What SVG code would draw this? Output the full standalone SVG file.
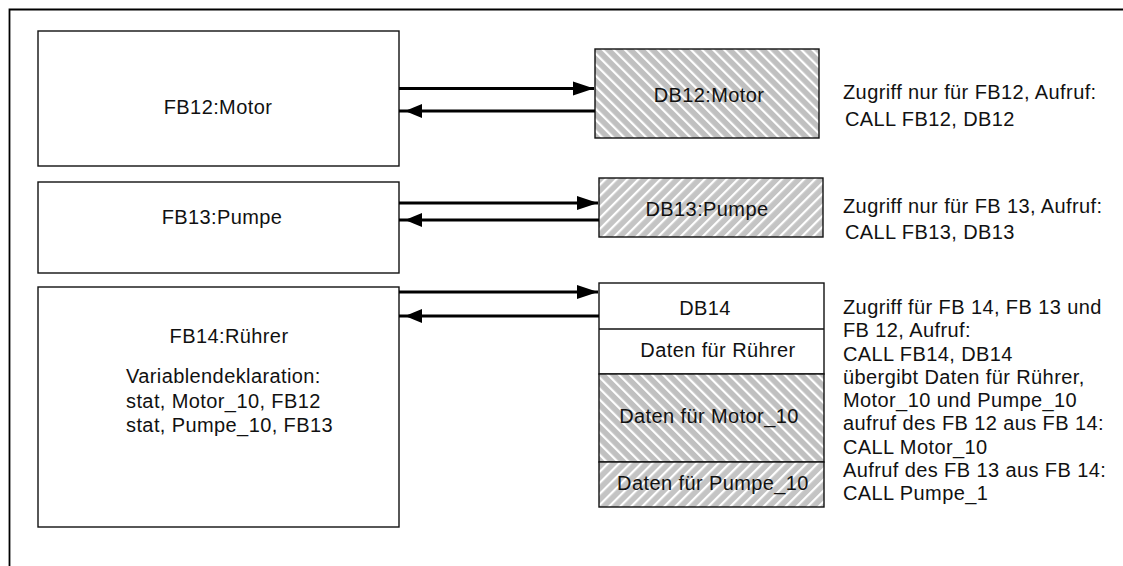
<svg xmlns="http://www.w3.org/2000/svg" width="1123" height="566" viewBox="0 0 1123 566">
  <style>
    .box { fill: #fff; stroke: #111; stroke-width: 1.4; }
    .hb { fill: url(#hatchBack); stroke: #111; stroke-width: 1.4; }
    .hf { fill: url(#hatchFwd); stroke: #111; stroke-width: 1.4; }
    .sep { stroke: #111; stroke-width: 1.4; fill: none; }
    text { font-family: "Liberation Sans", Arial, sans-serif; font-size: 20px; fill: #111; letter-spacing: 0.4px; }
    .c { text-anchor: middle; }
    .conn { stroke: #000; stroke-width: 3; fill: none; }
    .in { marker-end: url(#headIn); }
    .out { marker-end: url(#headOut); }
  </style>
  <defs>
    <!-- grey fill with white diagonal stripes, two directions -->
    <pattern id="hatchBack" width="7.8" height="7.8" patternUnits="userSpaceOnUse" patternTransform="rotate(-45)">
      <rect width="7.8" height="7.8" fill="#c0c0c0"/>
      <rect width="2.2" height="7.8" fill="#fff"/>
    </pattern>
    <pattern id="hatchFwd" width="7.8" height="7.8" patternUnits="userSpaceOnUse" patternTransform="rotate(45)">
      <rect width="7.8" height="7.8" fill="#c4c4c4"/>
      <rect width="2.2" height="7.8" fill="#fff"/>
    </pattern>
    <!-- arrowhead touching the data block -->
    <marker id="headIn" markerUnits="userSpaceOnUse" markerWidth="30" markerHeight="20" refX="21" refY="7" orient="auto" overflow="visible">
      <path d="M0,0 L21,7 L0,14 z" fill="#000"/>
    </marker>
    <!-- arrowhead set slightly off the function block edge -->
    <marker id="headOut" markerUnits="userSpaceOnUse" markerWidth="30" markerHeight="20" refX="23" refY="7" orient="auto" overflow="visible">
      <path d="M0,0 L17,7 L0,14 z" fill="#000"/>
    </marker>
  </defs>

  <rect width="1123" height="566" fill="#fff"/>

  <!-- outer frame -->
  <path d="M9.5,566 V9.5 H1123" fill="none" stroke="#000" stroke-width="1.8"/>

  <g id="fb12">
    <rect class="box" x="38" y="31" width="361" height="135"/>
    <text class="c" x="218" y="114">FB12:Motor</text>
  </g>

  <g id="fb13">
    <rect class="box" x="38" y="182" width="361" height="91"/>
    <text class="c" x="222" y="224">FB13:Pumpe</text>
  </g>

  <g id="fb14">
    <rect class="box" x="38" y="287" width="361" height="240"/>
    <text class="c" x="229" y="343">FB14:Rührer</text>
    <text x="126" y="383">Variablendeklaration:</text>
    <text x="126" y="408">stat, Motor_10, FB12</text>
    <text x="126" y="432">stat, Pumpe_10, FB13</text>
  </g>

  <g id="db12">
    <rect class="hb" x="595" y="49" width="224" height="89"/>
    <text class="c" x="709" y="102">DB12:Motor</text>
  </g>

  <g id="db13">
    <rect class="hf" x="599" y="178" width="224" height="59"/>
    <text class="c" x="707" y="216">DB13:Pumpe</text>
  </g>

  <g id="db14">
    <rect class="box" x="599" y="283" width="225" height="91"/>
    <rect class="hb" x="599" y="374" width="225" height="88"/>
    <rect class="hf" x="599" y="462" width="225" height="45"/>
    <line class="sep" x1="599" y1="329" x2="824" y2="329"/>
    <text class="c" x="705" y="315">DB14</text>
    <text class="c" x="718" y="357">Daten für Rührer</text>
    <text class="c" x="709" y="423">Daten für Motor_10</text>
    <text class="c" x="713" y="490">Daten für Pumpe_10</text>
  </g>

  <g id="note12">
    <text x="843" y="99">Zugriff nur für FB12, Aufruf:</text>
    <text x="845" y="126">CALL FB12, DB12</text>
  </g>

  <g id="note13">
    <text x="843" y="213">Zugriff nur für FB 13, Aufruf:</text>
    <text x="845" y="239">CALL FB13, DB13</text>
  </g>

  <g id="note14">
    <text x="843" y="314">Zugriff für FB 14, FB 13 und</text>
    <text x="843" y="337">FB 12, Aufruf:</text>
    <text x="843" y="361">CALL FB14, DB14</text>
    <text x="843" y="384">übergibt Daten für Rührer,</text>
    <text x="843" y="407">Motor_10 und Pumpe_10</text>
    <text x="843" y="430">aufruf des FB 12 aus FB 14:</text>
    <text x="843" y="454">CALL Motor_10</text>
    <text x="843" y="477">Aufruf des FB 13 aus FB 14:</text>
    <text x="843" y="500">CALL Pumpe_1</text>
  </g>

  <g id="connectors">
    <path class="conn in" d="M399,88.5 H594"/>
    <path class="conn out" d="M595,111 H399"/>
    <path class="conn in" d="M399,203 H598"/>
    <path class="conn out" d="M599,220 H399"/>
    <path class="conn in" d="M399,292 H598"/>
    <path class="conn out" d="M599,316 H399"/>
  </g>
</svg>
